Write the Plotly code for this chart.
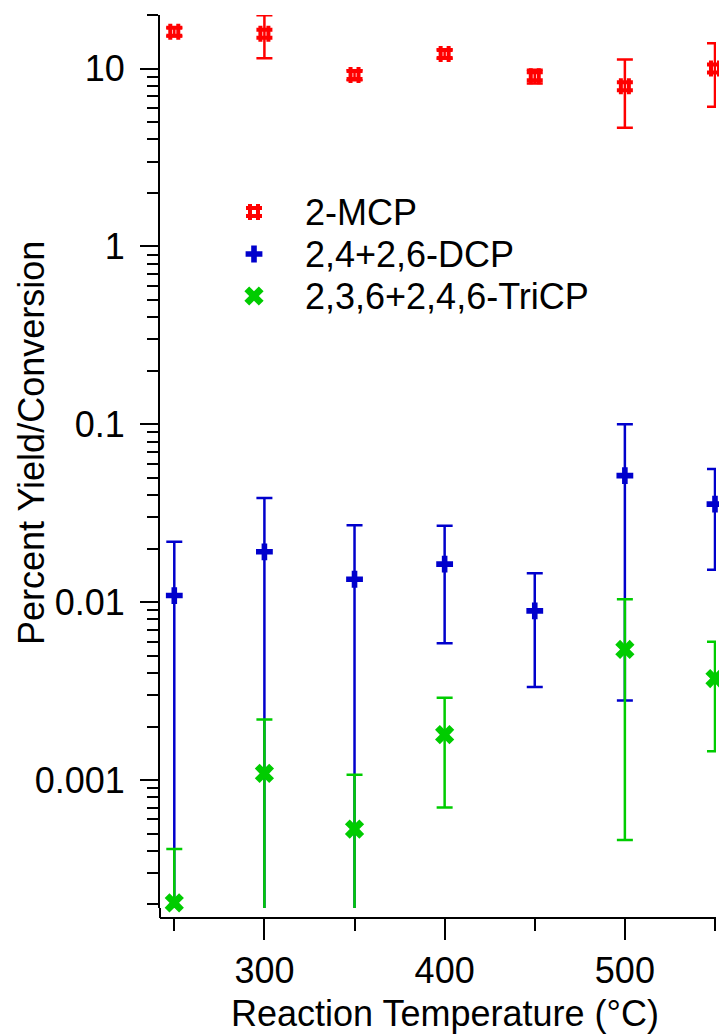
import plotly.graph_objects as go

# Reaction temperatures (°C)
temperature = [250, 300, 350, 400, 450, 500, 550]

# Percent yield / conversion with their uncertainties
mcp = [16.1, 15.7, 9.2, 12.1, 9.05, 7.95, 10.0]
mcp_err = [0.9, 4.25, 0.6, 0.7, 0.8, 3.3, 3.9]

dcp = [0.0109, 0.0192, 0.01346, 0.01637, 0.00893, 0.0515, 0.0356]
dcp_err = [0.011, 0.0193, 0.0136, 0.0105, 0.0056, 0.0487, 0.0204]

tricp = [0.000204, 0.00109, 0.00053, 0.0018, None, 0.00542, 0.00372]
tricp_err = [0.000205, 0.0011, 0.00054, 0.0011, None, 0.00496, 0.00227]

series_names = ["2-MCP", "2,4+2,6-DCP", "2,3,6+2,4,6-TriCP"]

y_tick_vals = [0.001, 0.01, 0.1, 1, 10]
y_tick_text = ["0.001", "0.01", "0.1", "1", "10"]
x_tick_vals = [300, 400, 500]
x_minor_vals = [250, 350, 450, 550]

# ---- page geometry ----
W, H = 719, 1034
M_L, M_R, M_T, M_B = 160, 3, 15, 116
plot_w = W - M_L - M_R
plot_h = H - M_T - M_B
axis_gap = 10                       # x axis sits a little below the data area
y_dom0 = axis_gap / plot_h

FONT = "Liberation Sans, Arial, Helvetica, sans-serif"
FS = 36


def paper_x(px):
    return (px - M_L) / plot_w


def paper_y(py):
    return (H - M_B - py) / plot_h


styles = [
    dict(color="#FF0000", symbol="hash", size=16, line=dict(color="#FF0000", width=4)),
    dict(color="#0000CC", symbol="cross", size=14, line=dict(width=0)),
    dict(color="#00CC00", symbol="x", size=17, line=dict(width=0)),
]
values = [mcp, dcp, tricp]
errors = [mcp_err, dcp_err, tricp_err]

fig = go.Figure()

for vals, errs, st in zip(values, errors, styles):
    # error bars, clipped to the data area
    fig.add_trace(go.Scatter(
        x=temperature, y=vals, mode="markers",
        marker=dict(size=2, opacity=0),
        error_y=dict(type="data", array=errs, visible=True, color=st["color"],
                     thickness=2.5, width=8),
        cliponaxis=True, showlegend=False, hoverinfo="skip",
    ))
    # symbols
    fig.add_trace(go.Scatter(
        x=temperature, y=vals, mode="markers", marker=st,
        cliponaxis=False, showlegend=False,
    ))

# legend block (drawn on an overlay axis measured in page pixels)
legend_x_sym, legend_x_text = 254, 303
legend_rows = [212, 254, 296]
for name, st, ry in zip(series_names, styles, legend_rows):
    fig.add_trace(go.Scatter(
        x=[legend_x_sym], y=[ry], xaxis="x2", yaxis="y2", mode="markers",
        marker=st, cliponaxis=False, showlegend=False, hoverinfo="skip",
    ))
    fig.add_annotation(
        x=legend_x_text, y=ry, xref="x2", yref="y2", text=name, showarrow=False,
        xanchor="left", yanchor="middle", font=dict(family=FONT, size=FS, color="black"),
    )

minor_log = [m * 10 ** e for e in range(-4, 2) for m in range(2, 10)]

axis_common = dict(
    showline=True, linecolor="black", linewidth=2, mirror=False,
    ticks="outside", tickwidth=2, tickcolor="black",
    showgrid=False, zeroline=False,
    tickfont=dict(family=FONT, size=FS, color="black"),
)

fig.update_layout(
    width=W, height=H,
    margin=dict(l=M_L, r=M_R, t=M_T, b=M_B, pad=0),
    paper_bgcolor="white", plot_bgcolor="white",
    font=dict(family=FONT, size=FS, color="black"),
    showlegend=False,
    xaxis=dict(
        **axis_common,
        range=[242.07, 550.56], anchor="free", position=0,
        tickvals=x_tick_vals, ticklen=21,
        minor=dict(tickvals=x_minor_vals, ticks="outside", ticklen=12,
                   tickwidth=2, tickcolor="black", showgrid=False),
    ),
    yaxis=dict(
        **axis_common,
        type="log", range=[-3.7195, 1.3015], domain=[y_dom0, 1], anchor="x",
        tickvals=y_tick_vals, ticktext=y_tick_text, ticklen=18, ticklabelstandoff=8,
        minor=dict(tickvals=minor_log, ticks="outside", ticklen=11,
                   tickwidth=2, tickcolor="black", showgrid=False),
    ),
    xaxis2=dict(overlaying="x", anchor="y2", range=[M_L, W - M_R], visible=False),
    yaxis2=dict(overlaying="y", anchor="x2", range=[H - M_B - axis_gap, M_T], visible=False),
)

# y axis line continues down to the x axis
fig.add_shape(type="line", xref="paper", yref="paper", x0=0, x1=0, y0=0, y1=y_dom0,
              line=dict(color="black", width=2))

fig.add_annotation(
    x=paper_x(31), y=paper_y(443), xref="paper", yref="paper",
    text="Percent Yield/Conversion", textangle=-90, showarrow=False,
    xanchor="center", yanchor="middle", font=dict(family=FONT, size=FS, color="black"),
)
fig.add_annotation(
    x=paper_x(445), y=paper_y(1013), xref="paper", yref="paper",
    text="Reaction Temperature (°C)", showarrow=False,
    xanchor="center", yanchor="middle", font=dict(family=FONT, size=FS, color="black"),
)

fig.write_html("out.html")
